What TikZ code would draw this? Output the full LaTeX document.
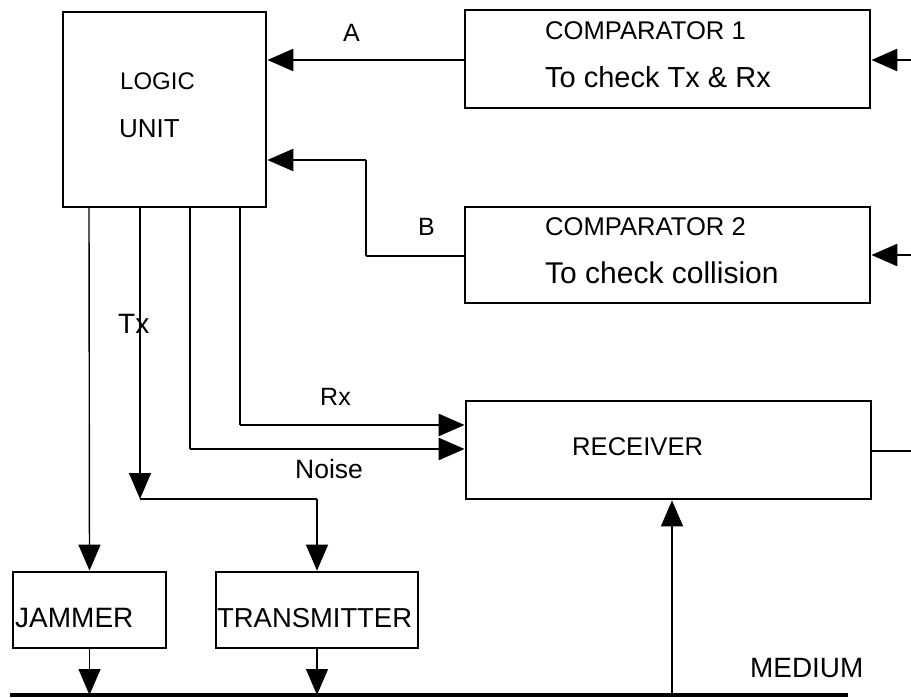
\documentclass[tikz,border=0pt]{standalone}
\usepackage{fontspec}
\setmainfont{Liberation Sans}
\usetikzlibrary{arrows.meta}
\newcommand\fsz[1]{\fontsize{#1}{#1}\selectfont}
\begin{document}
\begin{tikzpicture}[x=1pt,y=-1pt,
  blk/.style={draw, line width=2.8pt, rectangle, inner sep=0pt},
  lbl/.style={anchor=base west, inner sep=0pt},
  tip/.style={-{Triangle[length=26pt,width=22pt]}},
  wire/.style={line width=1.4pt},
  bus/.style={line width=2.8pt},
  medium/.style={line width=4.5pt}]
\useasboundingbox (0,0) rectangle (911,698);
% boxes
\node[blk, minimum width=203pt, minimum height=195pt] (logic) at (164.5,109.5) {};
\node[blk, minimum width=405pt, minimum height=98pt] (comp1) at (667.5,59) {};
\node[blk, minimum width=405pt, minimum height=96pt] (comp2) at (667.5,255) {};
\node[blk, minimum width=405pt, minimum height=98pt] (recv) at (668.5,450) {};
\node[blk, minimum width=153pt, minimum height=76pt] (jam) at (89.5,610) {};
\node[blk, minimum width=202pt, minimum height=76pt] (tx) at (317,610) {};
% texts
\node[lbl, font=\fsz{24}] (tlogic) at (120,90) {LOGIC};
\node[lbl, font=\fsz{26}] (tunit) at (119,138) {UNIT};
\node[lbl, font=\fsz{25.6}] (tc1) at (545,40) {COMPARATOR 1};
\node[lbl, font=\fsz{29}] (tc1b) at (545,88) {To check Tx \& Rx};
\node[lbl, font=\fsz{25.6}] (tc2) at (545,235) {COMPARATOR 2};
\node[lbl, font=\fsz{30}] (tc2b) at (545,283) {To check collision};
\node[lbl, font=\fsz{25}] (tA) at (343,42) {A};
\node[lbl, font=\fsz{25}] (tB) at (418,235) {B};
\node[lbl, font=\fsz{28}] (tTx) at (118,333) {Tx};
\node[lbl, font=\fsz{25}] (tRx) at (320,405) {Rx};
\node[lbl, font=\fsz{26.5}] (tNoise) at (295,478) {Noise};
\node[lbl, font=\fsz{28}] (tjam) at (15,627) {JAMMER};
\node[lbl, font=\fsz{27.4}] (ttx) at (217,627) {TRANSMITTER};
\node[lbl, font=\fsz{25.6}] (trecv) at (572,455) {RECEIVER};
\node[lbl, font=\fsz{27.9}] (tmed) at (750,677) {MEDIUM};
% coordinates
\coordinate (m1) at (10,695);
\coordinate (m2) at (848,695);
\coordinate (in1) at (911,60);
\coordinate (in2) at (911,255);
\coordinate (out) at (911,451);
\coordinate (bA) at (366,256);
\coordinate (bB) at (366,160);
\coordinate (l1) at (89,207);
\coordinate (l2) at (140,207);
\coordinate (l3) at (190,207);
\coordinate (l4) at (240,207);
\coordinate (c2) at (140,499);
\coordinate (c2r) at (317,499);
\coordinate (c3) at (190,449);
\coordinate (c4) at (240,425);
\coordinate (mr) at (672,695);
% medium
\draw[medium] (m1) -- (m2);
% connectors
\draw[bus, tip] (comp1.west |- in1) -- (logic.east |- in1);
\draw[bus] (comp2.west |- bA) -- (bA);
\draw[wire] (bA) -- (bB);
\draw[bus, tip] (bB) -- (logic.east |- bB);
\draw[bus, tip] (in1) -- (comp1.east |- in1);
\draw[bus, tip] (in2) -- (comp2.east |- in2);
\draw[bus] (recv.east |- out) -- (out);
\draw[wire, tip] (l1) -- (jam.north);
\draw[wire, tip] (l2) -- (c2);
\draw[wire] (c2) -- (c2r);
\draw[wire, tip] (c2r) -- (tx.north);
\draw[wire] (l3) -- (c3);
\draw[bus, tip] (c3) -- (recv.west |- c3);
\draw[wire] (l4) -- (c4);
\draw[bus, tip] (c4) -- (recv.west |- c4);
\draw[wire, tip] (jam.south) -- (jam.south |- m1);
\draw[wire, tip] (tx.south) -- (tx.south |- m1);
\draw[wire, tip] (mr) -- (recv.south -| mr);
\end{tikzpicture}
\end{document}
